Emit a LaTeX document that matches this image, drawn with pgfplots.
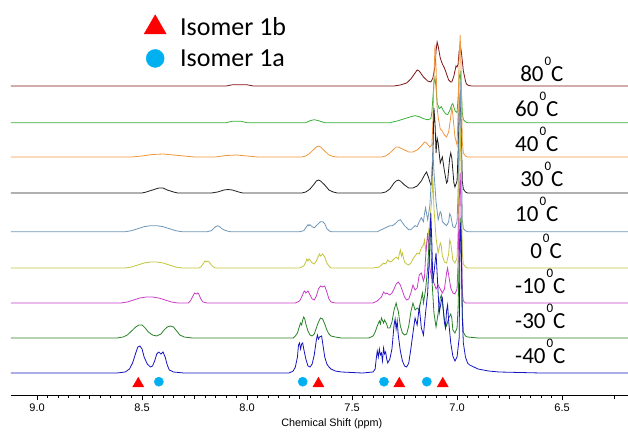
\documentclass[border=0pt]{standalone}
\usepackage{fontspec}
\setmainfont{Carlito}
\newfontfamily\arial{Liberation Sans}
\usepackage{pgfplots}
\pgfplotsset{compat=1.18}

\definecolor{c80}{RGB}{128,20,20}
\definecolor{c60}{RGB}{60,175,60}
\definecolor{c40}{RGB}{240,150,60}
\definecolor{c30}{RGB}{30,30,30}
\definecolor{c10}{RGB}{110,150,185}
\definecolor{c0}{RGB}{195,195,60}
\definecolor{cm10}{RGB}{200,60,200}
\definecolor{cm30}{RGB}{40,130,40}
\definecolor{cm40}{RGB}{20,20,190}
\definecolor{isoa}{RGB}{0,176,240}
\definecolor{isob}{RGB}{255,0,0}

\newcommand\lab[1]{#1\hspace{1pt}\raisebox{16pt}{\fontsize{13}{13}\selectfont 0}C}

\begin{document}
\begin{tikzpicture}
\useasboundingbox (0,0) rectangle (628pt,431pt);
\begin{axis}[
    at={(11pt,36pt)}, anchor=south west,
    scale only axis, width=617pt, height=395pt,
    xmin=6.186, xmax=9.124, x dir=reverse,
    ymin=36, ymax=431,
    clip=false,
    axis x line*=bottom, axis y line=none,
    axis line style={black, line width=0.6pt},
    xtick={6.5,7.0,7.5,8.0,8.5,9.0},
    minor x tick num=9,
    extra x ticks={6.25,6.75,7.25,7.75,8.25,8.75},
    extra x tick labels={},
    extra x tick style={major tick length=4pt},
    tick align=outside,
    major tick length=5pt, minor tick length=2.5pt,
    tick style={black, line width=0.5pt},
    xticklabel style={font=\arial\fontsize{11}{13}\selectfont,
        /pgf/number format/.cd, fixed, fixed zerofill, precision=1, assume math mode=true},
    xlabel={Chemical Shift (ppm)},
    xlabel style={font=\arial\fontsize{10.8}{12}\selectfont, at={(axis description cs:0.52,0)}, anchor=center, yshift=-29pt},
    legend style={draw=none, fill=none, font=\fontsize{26}{28}\selectfont,
        at={(rel axis cs:0.2107,0.968)}, anchor=north west,
        nodes={inner sep=1pt}, row sep=10pt,
        /tikz/every odd column/.append style={column sep=13pt}},
    legend cell align=left,
]
\addlegendimage{only marks, mark=triangle*, mark size=12.7pt, isob}
\addlegendentry{Isomer 1b}
\addlegendimage{only marks, mark=*, mark size=9pt, isoa}
\addlegendentry{Isomer 1a}

% 80 C
\addplot[c80, line width=0.8pt, forget plot, y filter/.expression={y+345}] coordinates {
(9.124,0) (8.10,0) (8.07,1.2) (8.00,1.2) (7.97,0) (7.30,0) (7.27,1) (7.24,3) (7.22,7) (7.20,13) (7.19,16) (7.18,15) (7.16,9) (7.14,5) (7.125,4) (7.115,8) (7.105,20) (7.10,35) (7.095,44) (7.09,40) (7.08,28) (7.07,22) (7.065,20) (7.06,18) (7.05,12) (7.04,6) (7.03,4) (7.025,4) (7.015,10) (7.005,20) (7.0,19) (6.995,22) (6.99,35) (6.985,41) (6.98,35) (6.97,15) (6.96,5) (6.955,2) (6.945,0.5) (6.93,0) (6.186,0)
};
% 60 C
\addplot[c60, line width=0.8pt, forget plot, y filter/.expression={y+308.3}] coordinates {
(9.124,0) (8.10,0) (8.07,1.5) (8.03,1.5) (8.00,0) (7.72,0) (7.70,2) (7.68,3) (7.66,2) (7.63,0) (7.32,0) (7.30,1) (7.28,2) (7.25,4) (7.22,6) (7.20,7) (7.18,6) (7.16,4) (7.14,3) (7.125,4) (7.12,10) (7.115,25) (7.11,40) (7.105,45) (7.10,35) (7.095,20) (7.085,14) (7.075,16) (7.065,12) (7.055,9) (7.045,8) (7.035,12) (7.025,18) (7.02,19) (7.01,12) (7.00,10) (6.995,25) (6.99,45) (6.985,50) (6.98,35) (6.975,10) (6.97,3) (6.96,1) (6.95,0) (6.186,0)
};
% 40 C
\addplot[c40, line width=0.8pt, forget plot, y filter/.expression={y+274}] coordinates {
(9.124,0) (8.55,0) (8.50,1) (8.45,2.5) (8.40,3) (8.35,2) (8.30,1) (8.25,0) (8.15,0) (8.10,1.5) (8.05,2) (8.00,1) (7.95,0) (7.74,0) (7.72,1) (7.70,4) (7.68,8) (7.67,10) (7.66,11) (7.65,10) (7.63,6) (7.61,2) (7.59,0.5) (7.57,0) (7.36,0) (7.34,1) (7.32,4) (7.30,8) (7.29,10) (7.28,10) (7.27,9) (7.25,7) (7.23,5) (7.21,5) (7.19,7) (7.17,11) (7.155,15) (7.145,14) (7.13,10) (7.12,12) (7.115,35) (7.11,80) (7.105,112) (7.10,90) (7.095,50) (7.09,40) (7.08,28) (7.07,26) (7.06,22) (7.05,20) (7.04,25) (7.03,40) (7.025,50) (7.02,42) (7.01,20) (7.00,12) (6.995,45) (6.99,100) (6.985,122) (6.98,80) (6.975,15) (6.97,4) (6.96,1) (6.95,0) (6.186,0)
};
% 30 C
\addplot[c30, line width=0.8pt, forget plot, y filter/.expression={y+238}] coordinates {
(9.124,0) (8.50,0) (8.48,1) (8.45,3) (8.42,5) (8.40,5) (8.38,3) (8.35,1) (8.33,0) (8.17,0) (8.14,1) (8.11,3) (8.09,3.5) (8.07,3) (8.04,1) (8.02,0) (7.74,0) (7.72,1) (7.70,4) (7.68,9) (7.67,12) (7.66,13) (7.65,12) (7.63,8) (7.61,3) (7.59,1) (7.57,0) (7.36,0) (7.34,1) (7.32,4) (7.30,10) (7.29,12) (7.28,13) (7.27,12) (7.25,8) (7.23,5) (7.21,5) (7.19,7) (7.17,12) (7.155,18) (7.145,21) (7.135,15) (7.125,8) (7.12,10) (7.115,40) (7.11,85) (7.105,70) (7.10,40) (7.095,55) (7.09,50) (7.08,30) (7.075,33) (7.07,36) (7.06,22) (7.05,10) (7.045,12) (7.035,35) (7.03,40) (7.025,35) (7.015,10) (7.01,6) (7.00,12) (6.995,40) (6.99,80) (6.985,96) (6.98,60) (6.975,12) (6.97,4) (6.96,1) (6.95,0) (6.186,0)
};
% 10 C
\addplot[c10, line width=0.8pt, forget plot, y filter/.expression={y+199.3}] coordinates {
(9.124,0) (8.58,0) (8.55,1) (8.52,3) (8.49,5) (8.46,6) (8.43,6) (8.40,5) (8.37,3) (8.34,1) (8.31,0) (8.19,0) (8.17,1) (8.16,3) (8.15,5) (8.14,6) (8.13,5) (8.12,3) (8.10,1) (8.08,0) (7.75,0) (7.73,1) (7.72,4) (7.71,7) (7.705,6) (7.70,7) (7.69,5) (7.68,4) (7.67,6) (7.66,8) (7.65,10) (7.64,10) (7.63,8) (7.62,3) (7.61,1) (7.60,0) (7.38,0) (7.36,2) (7.34,4) (7.33,5) (7.32,6) (7.31,6) (7.30,7) (7.29,9) (7.28,11) (7.27,12) (7.26,9) (7.25,6) (7.24,4) (7.23,2) (7.22,2) (7.21,4) (7.20,6) (7.19,5) (7.18,10) (7.17,14) (7.16,10) (7.155,18) (7.15,24) (7.145,18) (7.14,12) (7.13,25) (7.12,60) (7.115,80) (7.11,60) (7.10,30) (7.09,12) (7.08,20) (7.075,18) (7.07,10) (7.06,8) (7.05,6) (7.04,10) (7.035,18) (7.03,16) (7.02,5) (7.01,4) (7.00,10) (6.995,40) (6.99,110) (6.985,150) (6.98,90) (6.975,12) (6.97,3) (6.96,1) (6.95,0) (6.186,0)
};
% 0 C
\addplot[c0, line width=0.8pt, forget plot, y filter/.expression={y+163}] coordinates {
(9.124,0) (8.58,0) (8.55,1) (8.52,3) (8.49,5) (8.46,6) (8.43,6) (8.40,5) (8.37,3) (8.34,1) (8.31,0) (8.23,0) (8.22,1) (8.21,4) (8.20,7) (8.195,6) (8.19,7) (8.18,6) (8.17,3) (8.16,1) (8.15,0) (7.75,0) (7.73,2) (7.72,6) (7.715,9) (7.71,7) (7.705,9) (7.70,8) (7.69,5) (7.68,4) (7.67,7) (7.66,12) (7.655,14) (7.65,12) (7.64,14) (7.63,11) (7.62,5) (7.61,2) (7.60,0) (7.40,0) (7.37,1) (7.36,3) (7.35,5) (7.34,4) (7.33,8) (7.32,6) (7.31,7) (7.30,9) (7.29,11) (7.28,9) (7.275,14) (7.27,18) (7.265,12) (7.26,15) (7.255,10) (7.25,6) (7.24,4) (7.23,3) (7.22,5) (7.21,9) (7.20,12) (7.19,15) (7.18,14) (7.17,20) (7.16,23) (7.155,28) (7.15,18) (7.14,30) (7.13,45) (7.12,70) (7.115,90) (7.11,60) (7.10,30) (7.09,15) (7.08,25) (7.075,22) (7.07,12) (7.06,6) (7.05,5) (7.04,14) (7.035,28) (7.03,25) (7.02,8) (7.01,5) (7.00,10) (6.995,40) (6.99,100) (6.985,140) (6.98,90) (6.975,15) (6.97,4) (6.96,1) (6.95,0) (6.186,0)
};
% -10 C
\addplot[cm10, line width=0.8pt, forget plot, y filter/.expression={y+128}] coordinates {
(9.124,0) (8.60,0) (8.57,1) (8.54,3) (8.51,5) (8.48,6) (8.45,6) (8.42,5) (8.39,3) (8.36,1) (8.33,0) (8.28,0) (8.27,2) (8.26,6) (8.25,10) (8.24,9) (8.235,10) (8.23,9) (8.22,4) (8.21,1) (8.19,0) (7.77,0) (7.75,2) (7.74,6) (7.73,11) (7.725,12) (7.72,10) (7.71,12) (7.70,8) (7.69,4) (7.68,3) (7.67,7) (7.66,14) (7.65,17) (7.64,16) (7.63,17) (7.62,11) (7.61,4) (7.60,1) (7.58,0) (7.40,0) (7.38,2) (7.36,6) (7.35,11) (7.34,9) (7.335,10) (7.32,8) (7.31,10) (7.30,14) (7.29,19) (7.28,21) (7.27,18) (7.26,12) (7.25,6) (7.24,3) (7.23,4) (7.22,10) (7.21,18) (7.20,13) (7.19,15) (7.18,28) (7.17,30) (7.16,22) (7.155,26) (7.15,45) (7.14,70) (7.135,60) (7.13,35) (7.12,25) (7.11,20) (7.10,14) (7.09,18) (7.08,14) (7.07,10) (7.06,14) (7.05,30) (7.045,35) (7.04,28) (7.03,15) (7.02,10) (7.01,9) (7.00,14) (6.995,40) (6.99,100) (6.985,130) (6.98,80) (6.975,10) (6.97,2) (6.96,0) (6.186,0)
};
% -30 C
\addplot[cm30, line width=0.8pt, forget plot, y filter/.expression={y+93}] coordinates {
(9.124,0) (8.62,0) (8.59,1) (8.57,3) (8.55,7) (8.53,11) (8.515,13) (8.50,13) (8.485,10) (8.47,6) (8.45,3) (8.43,2) (8.41,4) (8.395,8) (8.38,11) (8.365,12) (8.35,11) (8.335,7) (8.32,3) (8.30,1) (8.26,0) (7.78,0) (7.77,2) (7.76,5) (7.75,12) (7.745,15) (7.74,13) (7.735,18) (7.73,21) (7.725,19) (7.72,14) (7.71,7) (7.70,3) (7.69,2) (7.68,4) (7.67,10) (7.66,16) (7.65,20) (7.64,19) (7.63,14) (7.62,8) (7.61,4) (7.60,2) (7.58,1) (7.55,0) (7.42,0) (7.40,2) (7.39,6) (7.38,12) (7.37,17) (7.365,14) (7.36,20) (7.35,15) (7.345,18) (7.335,14) (7.33,10) (7.32,10) (7.31,16) (7.30,28) (7.29,35) (7.285,30) (7.28,27) (7.27,12) (7.26,5) (7.25,3) (7.24,4) (7.23,12) (7.22,26) (7.21,35) (7.20,28) (7.19,30) (7.18,28) (7.17,40) (7.165,45) (7.16,35) (7.15,48) (7.14,70) (7.13,110) (7.125,100) (7.12,60) (7.11,25) (7.10,11) (7.09,25) (7.08,40) (7.075,43) (7.07,35) (7.06,18) (7.05,12) (7.04,20) (7.03,24) (7.025,20) (7.02,8) (7.01,5) (7.00,10) (6.995,30) (6.99,80) (6.985,120) (6.98,90) (6.975,25) (6.97,6) (6.96,2) (6.95,1) (6.90,0) (6.186,0)
};
% -40 C
\addplot[cm40, line width=0.8pt, forget plot, y filter/.expression={y+58}] coordinates {
(9.124,0) (8.62,0) (8.58,1) (8.56,4) (8.545,10) (8.53,20) (8.52,26) (8.51,27) (8.50,24) (8.49,16) (8.475,9) (8.46,6) (8.45,7) (8.44,12) (8.43,19) (8.42,21) (8.41,19) (8.40,21) (8.39,16) (8.38,8) (8.37,3) (8.35,1) (8.30,0) (7.80,0) (7.78,2) (7.77,6) (7.76,16) (7.755,28) (7.75,30) (7.745,24) (7.74,29) (7.735,30) (7.73,24) (7.72,14) (7.71,7) (7.70,6) (7.69,9) (7.68,18) (7.67,33) (7.665,38) (7.66,34) (7.655,36) (7.645,37) (7.64,30) (7.63,16) (7.62,9) (7.61,6) (7.60,4) (7.58,2) (7.55,1) (7.45,0) (7.40,1) (7.39,4) (7.385,14) (7.38,22) (7.375,16) (7.37,24) (7.365,18) (7.36,20) (7.355,12) (7.35,25) (7.345,19) (7.34,21) (7.335,14) (7.33,10) (7.32,14) (7.31,24) (7.30,48) (7.295,54) (7.29,44) (7.285,52) (7.28,38) (7.27,22) (7.26,12) (7.25,7) (7.24,6) (7.23,10) (7.22,24) (7.21,40) (7.20,55) (7.19,48) (7.18,66) (7.17,45) (7.16,38) (7.15,60) (7.14,80) (7.13,125) (7.125,160) (7.12,130) (7.115,90) (7.105,110) (7.10,120) (7.09,80) (7.085,60) (7.075,72) (7.07,75) (7.06,50) (7.055,45) (7.05,62) (7.045,68) (7.04,52) (7.03,30) (7.02,17) (7.01,12) (7.00,16) (6.99,35) (6.985,150) (6.98,130) (6.975,55) (6.97,30) (6.96,16) (6.95,10) (6.94,8) (6.92,6) (6.90,4) (6.85,2) (6.80,1) (6.60,0) (6.186,0)
};

% peak assignment markers
\addplot[only marks, mark=triangle*, mark size=6.4pt, isob, forget plot] coordinates {
(8.518,47.3) (7.660,47.3) (7.275,47.3) (7.068,47.3)
};
\addplot[only marks, mark=*, mark size=4.6pt, isoa, forget plot] coordinates {
(8.420,49.3) (7.735,49.3) (7.348,49.3) (7.144,49.3)
};

\begin{scope}[every node/.style={anchor=base west, inner sep=0pt, font=\fontsize{23}{23}\selectfont}]
\node at (axis cs:6.700,349.3) {\lab{80}};
\node at (axis cs:6.724,314.3) {\lab{60}};
\node at (axis cs:6.724,279.3) {\lab{40}};
\node at (axis cs:6.700,244.3) {\lab{30}};
\node at (axis cs:6.724,209.3) {\lab{10}};
\node at (axis cs:6.652,172.7) {\lab{0}};
\node at (axis cs:6.724,137.7) {\lab{-10}};
\node at (axis cs:6.724,102.7) {\lab{-30}};
\node at (axis cs:6.724,67.7) {\lab{-40}};
\end{scope}
\end{axis}
\end{tikzpicture}
\end{document}
